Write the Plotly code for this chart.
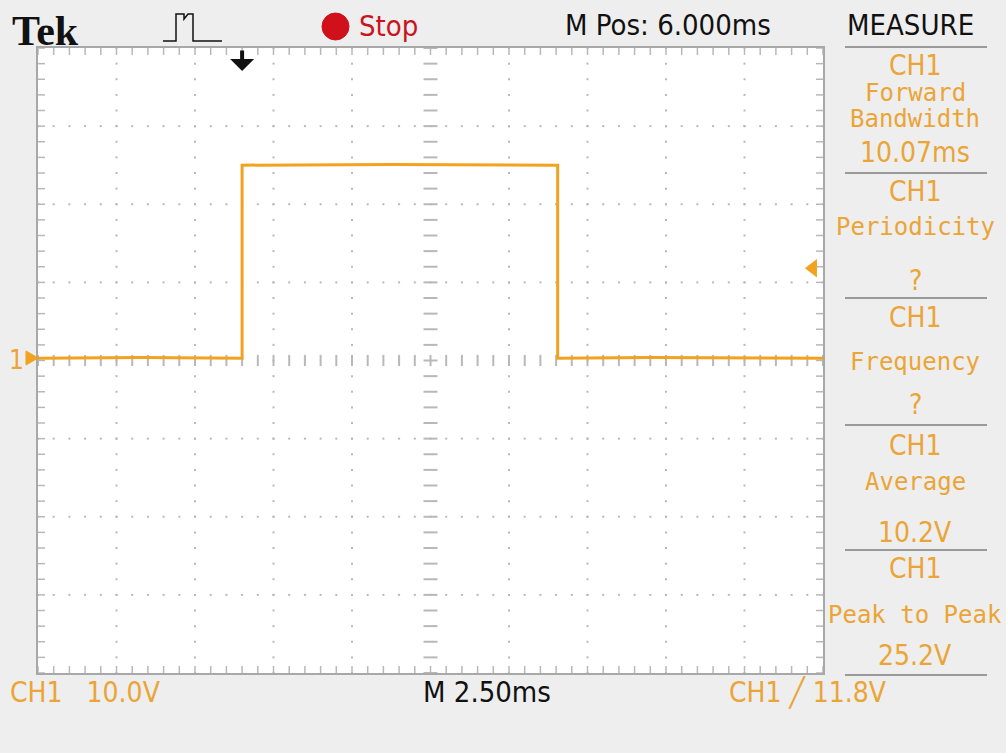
import numpy as np
import plotly.graph_objects as go

# ---- scope settings -------------------------------------------------------
volts_per_div = 10.0
ms_per_div = 2.5
h_position_ms = 6.0
trigger_level_v = 11.8
h_divs, v_divs = 10, 8

# ---- CH1 waveform (ms from trigger, volts) --------------------------------
time_ms = [-6.5, -3.2, 0.0, 0.0, 4.8, 10.05, 10.05, 13.0, 18.5]
ch1_volts = [0.3, 0.4, 0.3, 25.0, 25.1, 25.0, 0.3, 0.4, 0.3]

# ---- measurement panel ----------------------------------------------------
measure_names = ["Forward<br>Bandwidth", "Periodicity", "Frequency", "Average", "Peak to Peak"]
measure_values = ["10.07ms", "?", "?", "10.2V", "25.2V"]

# ---- page geometry (pixels) -----------------------------------------------
W, H = 1006, 753
L, R, T, B = 38, 823, 48, 673


def px(x):
    return (x - L) / (R - L)


def py(y):
    return (B - y) / (B - T)


ORANGE = "#F2A21E"
TEXT_OR = "#EBA436"
GRID = "#B8B8B8"
NARROW = "Liberation Sans Narrow, DejaVu Sans Condensed, Arial Narrow, sans-serif"
MONO = "DejaVu Sans Mono, Liberation Mono, monospace"

x0 = h_position_ms - ms_per_div * h_divs / 2
x1 = h_position_ms + ms_per_div * h_divs / 2
y0 = -volts_per_div * v_divs / 2
y1 = volts_per_div * v_divs / 2
minor_x = ms_per_div / 5
minor_y = volts_per_div / 5

fig = go.Figure()

# dotted graticule
xs_minor = np.arange(x0, x1 + 1e-9, minor_x)
ys_minor = np.arange(y0, y1 + 1e-9, minor_y)
dot_x, dot_y = [], []
for k in range(1, h_divs):
    xv = x0 + k * ms_per_div
    if abs(xv - h_position_ms) < 1e-9:
        continue
    dot_x += [xv] * len(ys_minor)
    dot_y += list(ys_minor)
for k in range(1, v_divs):
    yv = y0 + k * volts_per_div
    if abs(yv) < 1e-9:
        continue
    dot_x += list(xs_minor)
    dot_y += [yv] * len(xs_minor)
fig.add_trace(go.Scatter(x=dot_x, y=dot_y, mode="markers",
                         marker=dict(symbol="square", size=2, color=GRID),
                         hoverinfo="skip", showlegend=False))

# centre cross ticks
fig.add_trace(go.Scatter(x=list(xs_minor), y=[0] * len(xs_minor), mode="markers",
                         marker=dict(symbol="line-ns", size=8, line=dict(width=2, color=GRID)),
                         hoverinfo="skip", showlegend=False))
fig.add_trace(go.Scatter(x=[h_position_ms] * len(ys_minor), y=list(ys_minor), mode="markers",
                         marker=dict(symbol="line-ew", size=10, line=dict(width=2, color=GRID)),
                         hoverinfo="skip", showlegend=False))

# edge ticks (half clipped by the plot area)
fig.add_trace(go.Scatter(x=list(xs_minor) * 2, y=[y0] * len(xs_minor) + [y1] * len(xs_minor),
                         mode="markers",
                         marker=dict(symbol="line-ns", size=10, line=dict(width=1.5, color=GRID)),
                         hoverinfo="skip", showlegend=False))
fig.add_trace(go.Scatter(x=[x0] * len(ys_minor) + [x1] * len(ys_minor), y=list(ys_minor) * 2,
                         mode="markers",
                         marker=dict(symbol="line-ew", size=10, line=dict(width=1.5, color=GRID)),
                         hoverinfo="skip", showlegend=False))

# waveform
fig.add_trace(go.Scatter(x=time_ms, y=ch1_volts, mode="lines",
                         line=dict(color=ORANGE, width=3),
                         hoverinfo="skip", showlegend=False))

# trigger level marker (right edge)
fig.add_trace(go.Scatter(x=[x1 - 0.32], y=[trigger_level_v], mode="markers", cliponaxis=False,
                         marker=dict(symbol="triangle-left", size=16, color=ORANGE),
                         hoverinfo="skip", showlegend=False))

annotations = []


def text(x, y, s, size, color, family, anchor="center"):
    annotations.append(dict(x=px(x), y=py(y), xref="paper", yref="paper", text=s,
                            showarrow=False, xanchor=anchor, yanchor="middle",
                            font=dict(size=size, color=color, family=family)))


# header
annotations.append(dict(x=px(10), y=py(31), xref="paper", yref="paper", text="<b>Tek</b>",
                        showarrow=False, xanchor="left", yanchor="middle",
                        font=dict(size=42, color="#111", family="Liberation Serif, DejaVu Serif, serif")))
text(357, 26, "Stop", 29, "#C8141E", NARROW, anchor="left")
text(668, 25, "M Pos: 6.000ms", 29, "#111", NARROW)
text(910, 25, "MEASURE", 29, "#111", NARROW)

# trigger position arrow
annotations.append(dict(x=0.0, y=py(71), xref="x", yref="paper", ax=0, ay=-22,
                        showarrow=True, arrowhead=1, arrowsize=1.0, arrowwidth=4,
                        arrowcolor="#111", text=""))

# ground reference label
text(16, 360, "1", 26, TEXT_OR, NARROW)

# measurement panel
seps = [47, 173, 298, 425, 550, 675]
name_off = [None, 54, 64, 57, 65]
val_off = [105, 107, 106, 107, 105]
ch_off = [18, 18, 19, 20, 18]
cx = 915
for i, (name, val) in enumerate(zip(measure_names, measure_values)):
    top = seps[i]
    text(cx, top + ch_off[i], "CH1", 28, TEXT_OR, NARROW)
    if "<br>" in name:
        a, b = name.split("<br>")
        text(cx, top + 46, a, 24, TEXT_OR, MONO)
        text(cx, top + 72, b, 24, TEXT_OR, MONO)
    else:
        text(cx, top + name_off[i], name, 24, TEXT_OR, MONO)
    text(cx, top + val_off[i], val, 28, TEXT_OR, NARROW)

# footer
text(8, 692, "CH1&nbsp;&nbsp;&nbsp;10.0V", 28, TEXT_OR, NARROW, anchor="left")
text(487, 692, "M 2.50ms", 29, "#111", NARROW)
text(808, 692, "CH1 ╱ 11.8V", 28, TEXT_OR, NARROW)

shapes = []
for s in seps:
    shapes.append(dict(type="line", xref="paper", yref="paper", x0=px(845), x1=px(987),
                       y0=py(s), y1=py(s), line=dict(color="#9A9A9A", width=2)))

# stop indicator
shapes.append(dict(type="circle", xref="paper", yref="paper",
                   x0=px(322), x1=px(349), y0=py(40), y1=py(13),
                   fillcolor="#D0101A", line=dict(color="#D0101A", width=1)))

# ground marker arrow beside the "1"
gy = 358
tri = [(26, gy - 7), (38, gy), (26, gy + 7)]
shapes.append(dict(type="path", xref="paper", yref="paper",
                   path="M " + " L ".join(f"{px(a):.5f},{py(b):.5f}" for a, b in tri) + " Z",
                   fillcolor=ORANGE, line=dict(color=ORANGE, width=1)))

# acquisition icon
icon = [(163, 41), (176, 41), (176, 14), (184, 14), (184, 19), (188, 14), (193, 14),
        (193, 41), (222, 41)]
path = "M " + " L ".join(f"{px(a):.5f},{py(b):.5f}" for a, b in icon)
shapes.append(dict(type="path", xref="paper", yref="paper", path=path,
                   line=dict(color="#111", width=1.5)))

fig.update_layout(
    width=W, height=H,
    margin=dict(l=L, r=W - R, t=T, b=H - B),
    paper_bgcolor="#EEEEEE", plot_bgcolor="#FFFFFF",
    xaxis=dict(range=[x0, x1], showgrid=False, zeroline=False, showticklabels=False,
               ticks="", showline=True, mirror=True, linecolor="#A8A8A8", linewidth=1.5),
    yaxis=dict(range=[y0, y1], showgrid=False, zeroline=False, showticklabels=False,
               ticks="", showline=True, mirror=True, linecolor="#A8A8A8", linewidth=1.5),
    annotations=annotations,
    shapes=shapes,
    showlegend=False,
)

fig.write_html("out.html")
